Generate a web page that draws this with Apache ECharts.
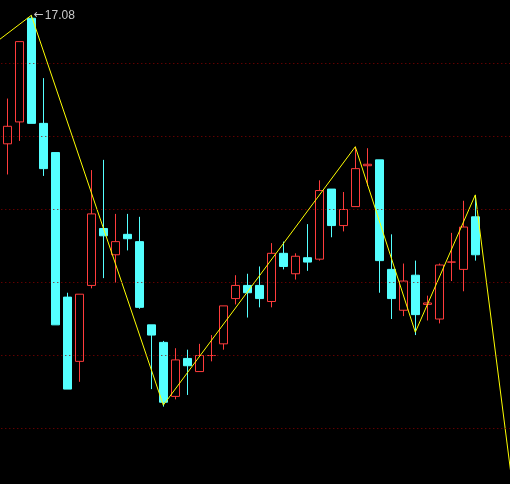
<!DOCTYPE html>
<html>
<head>
<meta charset="utf-8">
<script src="https://cdn.jsdelivr.net/npm/echarts@6/dist/echarts.min.js"></script>
<style>
html,body{margin:0;padding:0;background:#000;}
#chart{width:510px;height:484px;}
</style>
</head>
<body>
<div id="chart"></div>
<script>
// Trading days (two hidden leading and three hidden trailing slots keep the zigzag running off the edges)
var categories = ['p1','p2',
  'd1','d2','d3','d4','d5','d6','d7','d8','d9','d10',
  'd11','d12','d13','d14','d15','d16','d17','d18','d19','d20',
  'd21','d22','d23','d24','d25','d26','d27','d28','d29','d30',
  'd31','d32','d33','d34','d35','d36','d37','d38','d39','d40',
  'n1','n2','n3'];
var opens  = [16.20,16.35,17.06,16.34,16.14,15.15,14.71,15.23,15.62,15.44,
              15.58,15.53,14.96,14.84,14.47,14.73,14.64,14.75,14.83,15.14,
              15.23,15.23,15.12,15.45,15.31,15.42,15.41,15.89,15.64,15.77,
              16.05,16.09,15.34,15.06,15.30,15.10,15.00,15.39,15.34,15.70];
var closes = [16.32,16.90,16.34,16.03,14.96,14.52,15.17,15.72,15.57,15.53,
              15.55,15.08,14.89,14.43,14.72,14.68,14.75,14.75,15.09,15.23,
              15.18,15.14,15.45,15.36,15.43,15.39,15.88,15.64,15.75,16.03,
              16.06,15.40,15.14,15.26,15.03,15.11,15.37,15.39,15.63,15.44];
var lows   = [15.99,16.22,16.34,15.98,14.96,14.52,14.57,15.21,15.28,15.25,
              15.47,15.07,14.52,14.40,14.45,14.48,14.64,14.71,14.79,15.10,
              15.01,15.08,15.08,15.34,15.27,15.33,15.40,15.56,15.60,15.77,
              15.91,15.18,15.00,15.02,14.89,14.99,14.97,15.26,15.19,15.40];
var highs  = [16.51,16.90,17.08,16.65,16.14,15.18,15.17,16.02,16.09,15.72,
              15.72,15.70,14.96,14.85,14.80,14.79,14.83,14.89,15.09,15.30,
              15.31,15.36,15.52,15.53,15.45,15.65,15.95,15.89,15.87,16.18,
              16.17,16.09,15.58,15.38,15.40,15.16,15.38,15.59,15.81,15.85];
var leadPad = 2, tailPad = 3;
// Zigzag pivots: slot index and price
var zigIdx = [0, 4, 15, 31, 36, 41, 44];
var zigVal = [16.83, 17.08, 14.41, 16.18, 14.91, 15.85, 13.92];
// Horizontal reference levels
var gridLevels = [16.75, 16.25, 15.75, 15.25, 14.75, 14.25];
var highLabel = '17.08';

var candleData = [];
for (var i = 0; i < leadPad; i++) candleData.push(['-','-','-','-']);
for (var j = 0; j < opens.length; j++) candleData.push([opens[j], closes[j], lows[j], highs[j]]);
for (var t = 0; t < tailPad; t++) candleData.push(['-','-','-','-']);

var zigData = zigIdx.map(function (ix, k) { return [ix, zigVal[k]]; });

var chart = echarts.init(document.getElementById('chart'), null, {renderer: 'canvas'});
chart.setOption({
  backgroundColor: '#000000',
  animation: false,
  grid: {left: -22.7, right: -7.3, top: 0, bottom: 0, containLabel: false, outerBoundsMode: 'none'},
  xAxis: {
    type: 'category', data: categories, boundaryGap: true,
    axisLine: {show: false}, axisTick: {show: false}, axisLabel: {show: false}, splitLine: {show: false}
  },
  yAxis: {
    type: 'value', min: 13.870, max: 17.185, scale: true,
    axisLine: {show: false}, axisTick: {show: false}, axisLabel: {show: false}, splitLine: {show: false}
  },
  series: [
    {
      type: 'line', data: [], silent: true,
      markLine: {
        silent: true, symbol: ['none', 'none'], label: {show: false},
        lineStyle: {color: '#8c0000', width: 1, type: [1, 3]},
        data: gridLevels.map(function (v) { return {yAxis: v}; })
      }
    },
    {
      type: 'candlestick', data: candleData, barWidth: 9, silent: true,
      itemStyle: {
        color: '#000000', color0: '#54ffff',
        borderColor: '#ff3c3c', borderColor0: '#54ffff', borderWidth: 1
      }
    },
    {
      type: 'line', data: zigData, symbol: 'none', silent: true, clip: false,
      lineStyle: {color: '#ffff00', width: 1},
      markPoint: {
        symbol: 'circle', symbolSize: 1, itemStyle: {color: 'rgba(0,0,0,0)'},
        data: [{coord: [4, 17.08]}],
        label: {
          show: true, position: 'right', distance: 2,
          formatter: '{a|\u2190}{b|' + highLabel + '}',
          rich: {
            a: {color: '#c8c8c8', fontFamily: 'DejaVu Sans', fontSize: 12},
            b: {color: '#c8c8c8', fontFamily: 'Liberation Sans', fontSize: 12, padding: [0, 0, 0, 1]}
          }
        }
      }
    }
  ]
});
</script>
</body>
</html>
